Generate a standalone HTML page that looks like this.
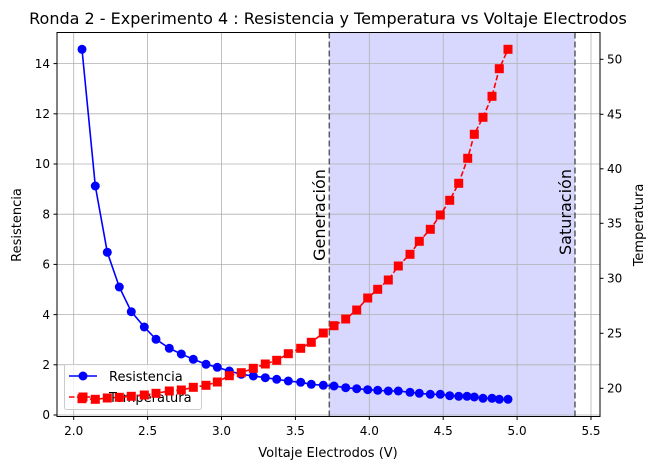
<!DOCTYPE html>
<html><head><meta charset="utf-8"><style>body{margin:0;background:#fff}svg{display:block;font-family:"DejaVu Sans","Liberation Sans",sans-serif}</style></head><body>
<svg width="656" height="470" viewBox="0 0 656 470" xmlns="http://www.w3.org/2000/svg">
<rect x="329.3" y="32.5" width="245.7" height="384" fill="#d8d8ff"/>
<g stroke="#b0b0b0" stroke-width="0.8">
<line x1="73.7" y1="32.5" x2="73.7" y2="416.5"/><line x1="147.6" y1="32.5" x2="147.6" y2="416.5"/><line x1="221.5" y1="32.5" x2="221.5" y2="416.5"/><line x1="295.4" y1="32.5" x2="295.4" y2="416.5"/><line x1="369.3" y1="32.5" x2="369.3" y2="416.5"/><line x1="443.2" y1="32.5" x2="443.2" y2="416.5"/><line x1="517.1" y1="32.5" x2="517.1" y2="416.5"/><line x1="591" y1="32.5" x2="591" y2="416.5"/>
<line x1="57" y1="415" x2="600" y2="415"/><line x1="57" y1="364.8" x2="600" y2="364.8"/><line x1="57" y1="314.6" x2="600" y2="314.6"/><line x1="57" y1="264.4" x2="600" y2="264.4"/><line x1="57" y1="214.2" x2="600" y2="214.2"/><line x1="57" y1="164" x2="600" y2="164"/><line x1="57" y1="113.8" x2="600" y2="113.8"/><line x1="57" y1="63.6" x2="600" y2="63.6"/>
</g>
<g stroke="#444" stroke-width="1.5" stroke-dasharray="6,3" opacity="0.85"><line x1="329.3" y1="32.5" x2="329.3" y2="416.5"/><line x1="575" y1="32.5" x2="575" y2="416.5"/></g>
<g font-size="16" fill="#000"><text transform="translate(325,215) rotate(-90)" text-anchor="middle">Generación</text><text transform="translate(571,212) rotate(-90)" text-anchor="middle">Saturación</text></g>
<polyline fill="none" stroke="#0000ff" stroke-width="1.6" points="82,49.3 95.3,186 107.3,252.3 119.3,287 131.3,311.7 144.3,327 156,339.3 169.3,348.3 181.3,354 193.3,359.3 206,364.3 217.3,367.3 229.3,371 241.3,374.3 253.3,376 265.3,377.7 276.7,379.3 288.3,381 300.7,382.3 311.3,384.3 323.3,385.3 334,386 345.7,387.7 356.7,388.7 367.7,389.7 377.7,390.3 388.3,391 398.3,391 410,392.3 419.3,393.3 430.3,394.3 440.3,394.3 449.7,395.7 458.7,396.3 467,396.3 474.3,397 483,398.3 492,398.3 499.3,399.3 508,399.3"/>
<g fill="#0000ff">
<circle cx="82" cy="49.3" r="4.5"/><circle cx="95.3" cy="186" r="4.5"/><circle cx="107.3" cy="252.3" r="4.5"/><circle cx="119.3" cy="287" r="4.5"/><circle cx="131.3" cy="311.7" r="4.5"/><circle cx="144.3" cy="327" r="4.5"/><circle cx="156" cy="339.3" r="4.5"/><circle cx="169.3" cy="348.3" r="4.5"/><circle cx="181.3" cy="354" r="4.5"/><circle cx="193.3" cy="359.3" r="4.5"/><circle cx="206" cy="364.3" r="4.5"/><circle cx="217.3" cy="367.3" r="4.5"/><circle cx="229.3" cy="371" r="4.5"/><circle cx="241.3" cy="374.3" r="4.5"/><circle cx="253.3" cy="376" r="4.5"/><circle cx="265.3" cy="377.7" r="4.5"/><circle cx="276.7" cy="379.3" r="4.5"/><circle cx="288.3" cy="381" r="4.5"/><circle cx="300.7" cy="382.3" r="4.5"/><circle cx="311.3" cy="384.3" r="4.5"/><circle cx="323.3" cy="385.3" r="4.5"/><circle cx="334" cy="386" r="4.5"/><circle cx="345.7" cy="387.7" r="4.5"/><circle cx="356.7" cy="388.7" r="4.5"/><circle cx="367.7" cy="389.7" r="4.5"/><circle cx="377.7" cy="390.3" r="4.5"/><circle cx="388.3" cy="391" r="4.5"/><circle cx="398.3" cy="391" r="4.5"/><circle cx="410" cy="392.3" r="4.5"/><circle cx="419.3" cy="393.3" r="4.5"/><circle cx="430.3" cy="394.3" r="4.5"/><circle cx="440.3" cy="394.3" r="4.5"/><circle cx="449.7" cy="395.7" r="4.5"/><circle cx="458.7" cy="396.3" r="4.5"/><circle cx="467" cy="396.3" r="4.5"/><circle cx="474.3" cy="397" r="4.5"/><circle cx="483" cy="398.3" r="4.5"/><circle cx="492" cy="398.3" r="4.5"/><circle cx="499.3" cy="399.3" r="4.5"/><circle cx="508" cy="399.3" r="4.5"/>
</g>
<rect x="64.5" y="364.5" width="137" height="45" rx="2" fill="#fff" fill-opacity="0.8" stroke="#ccc"/>
<line x1="69" y1="376" x2="97" y2="376" stroke="#0000ff" stroke-width="1.6"/><circle cx="83" cy="376" r="4.5" fill="#0000ff"/>
<text x="109" y="381" font-size="13">Resistencia</text>
<line x1="69" y1="397" x2="97" y2="397" stroke="#ff0000" stroke-width="1.6" stroke-dasharray="5.5,2.4"/><rect x="78.5" y="392.5" width="9" height="9" fill="#ff0000"/>
<text x="109" y="402" font-size="13">Temperatura</text>
<polyline fill="none" stroke="#ff0000" stroke-width="1.6" stroke-dasharray="5.5,2.4" points="82,398.7 95.3,399.3 107.3,398 119.3,397.3 131.3,396.3 144.3,395 156,393.3 169.3,391 181.3,390 193.3,387.3 206,385.3 217.3,382 229.3,375.7 241.3,372.7 253.3,368.3 265.3,364 276.7,360.3 288.3,353.7 300.7,348.3 311.3,342.3 323.3,333 334,325.7 345.7,319 356.7,310 367.7,298 377.7,289.3 388.3,280 398.3,266 410,254.3 419.3,241.3 430.3,229.3 440.3,215 449.7,200.3 458.7,183.3 467.7,158.3 474.3,134.3 483,117.3 492,96.3 499.3,68.7 508,49.3"/>
<g fill="#ff0000" transform="translate(-4.5,-4.5)">
<rect x="82" y="398.7" width="9" height="9"/><rect x="95.3" y="399.3" width="9" height="9"/><rect x="107.3" y="398" width="9" height="9"/><rect x="119.3" y="397.3" width="9" height="9"/><rect x="131.3" y="396.3" width="9" height="9"/><rect x="144.3" y="395" width="9" height="9"/><rect x="156" y="393.3" width="9" height="9"/><rect x="169.3" y="391" width="9" height="9"/><rect x="181.3" y="390" width="9" height="9"/><rect x="193.3" y="387.3" width="9" height="9"/><rect x="206" y="385.3" width="9" height="9"/><rect x="217.3" y="382" width="9" height="9"/><rect x="229.3" y="375.7" width="9" height="9"/><rect x="241.3" y="372.7" width="9" height="9"/><rect x="253.3" y="368.3" width="9" height="9"/><rect x="265.3" y="364" width="9" height="9"/><rect x="276.7" y="360.3" width="9" height="9"/><rect x="288.3" y="353.7" width="9" height="9"/><rect x="300.7" y="348.3" width="9" height="9"/><rect x="311.3" y="342.3" width="9" height="9"/><rect x="323.3" y="333" width="9" height="9"/><rect x="334" y="325.7" width="9" height="9"/><rect x="345.7" y="319" width="9" height="9"/><rect x="356.7" y="310" width="9" height="9"/><rect x="367.7" y="298" width="9" height="9"/><rect x="377.7" y="289.3" width="9" height="9"/><rect x="388.3" y="280" width="9" height="9"/><rect x="398.3" y="266" width="9" height="9"/><rect x="410" y="254.3" width="9" height="9"/><rect x="419.3" y="241.3" width="9" height="9"/><rect x="430.3" y="229.3" width="9" height="9"/><rect x="440.3" y="215" width="9" height="9"/><rect x="449.7" y="200.3" width="9" height="9"/><rect x="458.7" y="183.3" width="9" height="9"/><rect x="467.7" y="158.3" width="9" height="9"/><rect x="474.3" y="134.3" width="9" height="9"/><rect x="483" y="117.3" width="9" height="9"/><rect x="492" y="96.3" width="9" height="9"/><rect x="499.3" y="68.7" width="9" height="9"/><rect x="508" y="49.3" width="9" height="9"/>
</g>
<rect x="57" y="32.5" width="543" height="384" fill="none" stroke="#000" stroke-width="1"/>
<g stroke="#000"><line x1="73.7" y1="416.5" x2="73.7" y2="420"/><line x1="147.6" y1="416.5" x2="147.6" y2="420"/><line x1="221.5" y1="416.5" x2="221.5" y2="420"/><line x1="295.4" y1="416.5" x2="295.4" y2="420"/><line x1="369.3" y1="416.5" x2="369.3" y2="420"/><line x1="443.2" y1="416.5" x2="443.2" y2="420"/><line x1="517.1" y1="416.5" x2="517.1" y2="420"/><line x1="591" y1="416.5" x2="591" y2="420"/>
<line x1="53.5" y1="415" x2="57" y2="415"/><line x1="53.5" y1="364.8" x2="57" y2="364.8"/><line x1="53.5" y1="314.6" x2="57" y2="314.6"/><line x1="53.5" y1="264.4" x2="57" y2="264.4"/><line x1="53.5" y1="214.2" x2="57" y2="214.2"/><line x1="53.5" y1="164" x2="57" y2="164"/><line x1="53.5" y1="113.8" x2="57" y2="113.8"/><line x1="53.5" y1="63.6" x2="57" y2="63.6"/>
<line x1="600" y1="388.3" x2="603.5" y2="388.3"/><line x1="600" y1="333.3" x2="603.5" y2="333.3"/><line x1="600" y1="278.3" x2="603.5" y2="278.3"/><line x1="600" y1="223.3" x2="603.5" y2="223.3"/><line x1="600" y1="168.8" x2="603.5" y2="168.8"/><line x1="600" y1="114.3" x2="603.5" y2="114.3"/><line x1="600" y1="59.3" x2="603.5" y2="59.3"/></g>
<g font-size="12" text-anchor="middle"><text x="73.7" y="435">2.0</text><text x="147.6" y="435">2.5</text><text x="221.5" y="435">3.0</text><text x="295.4" y="435">3.5</text><text x="369.3" y="435">4.0</text><text x="443.2" y="435">4.5</text><text x="517.1" y="435">5.0</text><text x="591" y="435">5.5</text></g>
<g font-size="12" text-anchor="end"><text x="50" y="419">0</text><text x="50" y="369">2</text><text x="50" y="319">4</text><text x="50" y="268.5">6</text><text x="50" y="218.5">8</text><text x="50" y="168">10</text><text x="50" y="118">12</text><text x="50" y="68">14</text></g>
<g font-size="12"><text x="607" y="392.5">20</text><text x="607" y="337.5">25</text><text x="607" y="282.5">30</text><text x="607" y="227.5">35</text><text x="607" y="173">40</text><text x="607" y="118.5">45</text><text x="607" y="63.5">50</text></g>
<text x="328" y="457" font-size="13" text-anchor="middle">Voltaje Electrodos (V)</text>
<text transform="translate(21,225) rotate(-90)" font-size="13" text-anchor="middle">Resistencia</text>
<text transform="translate(643,225) rotate(-90)" font-size="13" text-anchor="middle">Temperatura</text>
<text x="328" y="24" font-size="16" text-anchor="middle">Ronda 2 - Experimento 4 : Resistencia y Temperatura vs Voltaje Electrodos</text>
</svg>
</body></html>
